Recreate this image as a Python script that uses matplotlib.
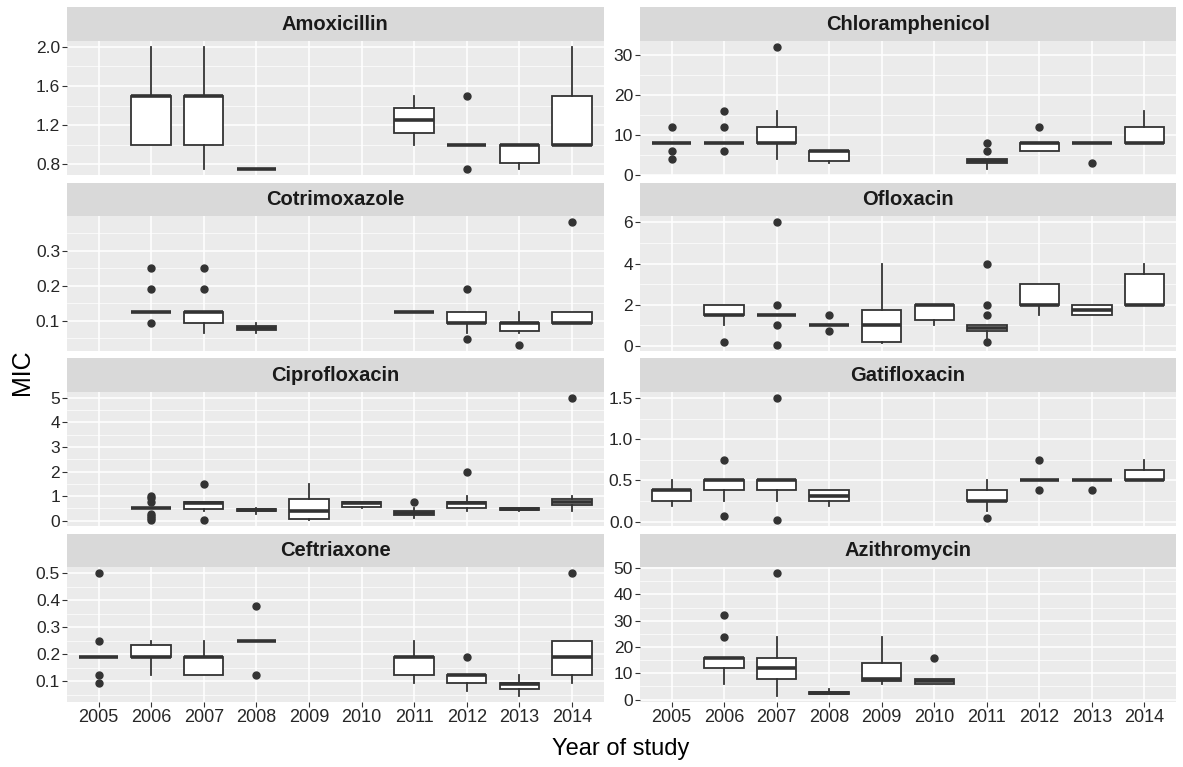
import matplotlib
matplotlib.use("Agg")
import matplotlib.pyplot as plt
from matplotlib import font_manager

# MIC boxplots per antibiotic and year of study.
# Each row: year, lower whisker, Q1, median, Q3, upper whisker, outliers
years = [2005, 2006, 2007, 2008, 2009, 2010, 2011, 2012, 2013, 2014]

amoxicillin = [
    (2006, 1.0, 1.0, 1.5, 1.5, 2.0, []),
    (2007, 0.75, 1.0, 1.5, 1.5, 2.0, []),
    (2008, 0.75, 0.75, 0.75, 0.75, 0.75, []),
    (2011, 1.0, 1.125, 1.25, 1.375, 1.5, []),
    (2012, 1.0, 1.0, 1.0, 1.0, 1.0, [1.5, 0.75]),
    (2013, 0.75, 0.8125, 1.0, 1.0, 1.0, []),
    (2014, 1.0, 1.0, 1.0, 1.5, 2.0, []),
]
chloramphenicol = [
    (2005, 8, 8, 8, 8, 8, [12, 6, 4]),
    (2006, 8, 8, 8, 8, 8, [16, 12, 6]),
    (2007, 4, 8, 8, 12, 16, [32]),
    (2008, 3, 3.5, 6, 6, 6, []),
    (2011, 1.5, 3, 3.5, 4, 4, [6, 8]),
    (2012, 6, 6, 8, 8, 8, [12]),
    (2013, 8, 8, 8, 8, 8, [3]),
    (2014, 8, 8, 8, 12, 16, []),
]
cotrimoxazole = [
    (2006, 0.125, 0.125, 0.125, 0.125, 0.125, [0.25, 0.19, 0.094]),
    (2007, 0.064, 0.094, 0.125, 0.125, 0.125, [0.25, 0.19]),
    (2008, 0.064, 0.073, 0.08, 0.086, 0.094, []),
    (2011, 0.125, 0.125, 0.125, 0.125, 0.125, []),
    (2012, 0.064, 0.094, 0.094, 0.125, 0.125, [0.19, 0.047]),
    (2013, 0.064, 0.072, 0.094, 0.094, 0.125, [0.032]),
    (2014, 0.094, 0.094, 0.094, 0.125, 0.125, [0.38]),
]
ofloxacin = [
    (2006, 1.0, 1.5, 1.5, 2.0, 2.0, [0.19]),
    (2007, 1.5, 1.5, 1.5, 1.5, 1.5, [6, 2, 1, 0.064]),
    (2008, 1.0, 1.0, 1.0, 1.0, 1.0, [1.5, 0.75]),
    (2009, 0.125, 0.19, 1.0, 1.75, 4.0, []),
    (2010, 1.0, 1.25, 2.0, 2.0, 2.0, []),
    (2011, 0.38, 0.75, 0.875, 1.0, 1.0, [4, 2, 1.5, 0.19]),
    (2012, 1.5, 2.0, 2.0, 3.0, 3.0, []),
    (2013, 1.5, 1.5, 1.75, 2.0, 2.0, []),
    (2014, 2.0, 2.0, 2.0, 3.5, 4.0, []),
]
ciprofloxacin = [
    (2006, 0.5, 0.5, 0.5, 0.5, 0.5, [1.0, 0.94, 0.75, 0.25, 0.19, 0.125, 0.016]),
    (2007, 0.38, 0.47, 0.72, 0.75, 0.75, [1.5, 0.016]),
    (2008, 0.25, 0.38, 0.42, 0.47, 0.5, []),
    (2009, 0.016, 0.047, 0.38, 0.88, 1.5, []),
    (2010, 0.5, 0.56, 0.72, 0.75, 0.75, []),
    (2011, 0.125, 0.23, 0.32, 0.41, 0.5, [0.75]),
    (2012, 0.38, 0.5, 0.72, 0.75, 1.0, [2.0]),
    (2013, 0.38, 0.42, 0.47, 0.5, 0.5, []),
    (2014, 0.38, 0.62, 0.75, 0.88, 1.0, [5.0]),
]
gatifloxacin = [
    (2005, 0.19, 0.25, 0.38, 0.38, 0.5, []),
    (2006, 0.25, 0.38, 0.5, 0.5, 0.5, [0.75, 0.064]),
    (2007, 0.25, 0.38, 0.5, 0.5, 0.5, [1.5, 0.016]),
    (2008, 0.19, 0.25, 0.31, 0.38, 0.38, []),
    (2011, 0.125, 0.25, 0.25, 0.38, 0.5, [0.047]),
    (2012, 0.5, 0.5, 0.5, 0.5, 0.5, [0.75, 0.38]),
    (2013, 0.5, 0.5, 0.5, 0.5, 0.5, [0.38]),
    (2014, 0.5, 0.5, 0.5, 0.62, 0.75, []),
]
ceftriaxone = [
    (2005, 0.19, 0.19, 0.19, 0.19, 0.19, [0.5, 0.25, 0.125, 0.094]),
    (2006, 0.125, 0.19, 0.19, 0.235, 0.25, []),
    (2007, 0.125, 0.125, 0.19, 0.19, 0.25, []),
    (2008, 0.25, 0.25, 0.25, 0.25, 0.25, [0.38, 0.125]),
    (2011, 0.094, 0.125, 0.19, 0.19, 0.25, []),
    (2012, 0.064, 0.094, 0.125, 0.125, 0.125, [0.19]),
    (2013, 0.047, 0.072, 0.09, 0.094, 0.125, []),
    (2014, 0.094, 0.125, 0.19, 0.25, 0.25, [0.5]),
]
azithromycin = [
    (2006, 6, 12, 16, 16, 16, [32, 24]),
    (2007, 1.5, 8, 12, 16, 24, [48]),
    (2008, 2, 2, 2.5, 3, 4, []),
    (2009, 6, 7, 8, 14, 24, []),
    (2010, 6, 6, 7, 8, 8, [16]),
]

drug_names = ["Amoxicillin", "Chloramphenicol", "Cotrimoxazole", "Ofloxacin",
              "Ciprofloxacin", "Gatifloxacin", "Ceftriaxone", "Azithromycin"]
drug_rows = [amoxicillin, chloramphenicol, cotrimoxazole, ofloxacin,
             ciprofloxacin, gatifloxacin, ceftriaxone, azithromycin]
y_tick_labels = [
    ["0.8", "1.2", "1.6", "2.0"],
    ["0", "10", "20", "30"],
    ["0.1", "0.2", "0.3"],
    ["0", "2", "4", "6"],
    ["0", "1", "2", "3", "4", "5"],
    ["0.0", "0.5", "1.0", "1.5"],
    ["0.1", "0.2", "0.3", "0.4", "0.5"],
    ["0", "10", "20", "30", "40", "50"],
]

# fonts
installed = {f.name for f in font_manager.fontManager.ttflist}
if "Liberation Sans Narrow" in installed:
    tick_font, tick_size, xtick_size, strip_size = "Liberation Sans Narrow", 13, 14, 16
else:
    tick_font, tick_size, xtick_size, strip_size = "Liberation Sans", 12.5, 13, 14.5
title_font = "Liberation Sans"

W, H = 1183, 767
fig = plt.figure(figsize=(W / 100, H / 100), dpi=100)


def px_axes(x0, y0, x1, y1):
    # axes from a pixel box measured from the top-left corner
    return fig.add_axes([x0 / W, 1 - y1 / H, (x1 - x0) / W, (y1 - y0) / H])


col_x = [(67, 603.5), (640, 1176)]
strip_h, panel_h, row_pitch, top = 33.5, 134.5, 175.5, 7.3
dark = "#333333"

for i, (name, rows, ticks) in enumerate(zip(drug_names, drug_rows, y_tick_labels)):
    r, c = divmod(i, 2)
    x0, x1 = col_x[c]
    s0 = top + r * row_pitch
    p0 = s0 + strip_h
    p1 = p0 + panel_h

    # strip with the drug name
    sax = px_axes(x0, s0, x1, p0)
    sax.set_facecolor("#D9D9D9")
    sax.set_xticks([])
    sax.set_yticks([])
    for sp in sax.spines.values():
        sp.set_visible(False)
    sax.text(0.5, 0.5, name, ha="center", va="center", fontsize=strip_size,
             fontweight="bold", family=tick_font, color="#1A1A1A",
             transform=sax.transAxes)

    ax = px_axes(x0, p0, x1, p1)
    ax.set_facecolor("#EBEBEB")
    for sp in ax.spines.values():
        sp.set_visible(False)

    stats = []
    positions = []
    for yr, lo, q1, med, q3, hi, out in rows:
        stats.append(dict(whislo=lo, q1=q1, med=med, q3=q3, whishi=hi, fliers=out))
        positions.append(years.index(yr) + 1)
    ax.bxp(stats, positions=positions, widths=0.75, patch_artist=True,
           showcaps=False, manage_ticks=False,
           boxprops=dict(facecolor="white", edgecolor=dark, linewidth=1.3),
           medianprops=dict(color=dark, linewidth=2.6, solid_capstyle="butt"),
           whiskerprops=dict(color=dark, linewidth=1.3),
           flierprops=dict(marker="o", markerfacecolor=dark, markeredgecolor=dark,
                           markersize=5),
           zorder=3)

    # y range with 5% padding like ggplot
    lows = [row[1] for row in rows] + [v for row in rows for v in row[6]]
    highs = [row[5] for row in rows] + [v for row in rows for v in row[6]]
    ymin, ymax = min(lows), max(highs)
    pad = 0.05 * (ymax - ymin)
    ax.set_ylim(ymin - pad, ymax + pad)
    ax.set_xlim(0.4, len(years) + 0.6)

    major = [float(t) for t in ticks]
    step = major[1] - major[0]
    minor = [major[0] - step / 2] + [m + step / 2 for m in major]
    minor = [m for m in minor if ymin - pad <= m <= ymax + pad]
    ax.set_yticks(major)
    ax.set_yticklabels(ticks)
    ax.set_yticks(minor, minor=True)
    ax.set_xticks(range(1, len(years) + 1))

    ax.grid(True, which="major", color="white", linewidth=1.1)
    ax.grid(True, which="minor", axis="y", color="white", linewidth=0.5)
    ax.set_axisbelow(True)

    ax.tick_params(which="minor", length=0)
    ax.tick_params(which="major", length=3.5, width=0.8, color=dark,
                   labelcolor="#262626")
    ax.tick_params(axis="y", pad=1.5, labelsize=tick_size)
    ax.tick_params(axis="x", pad=2, labelsize=xtick_size)
    for lab in ax.get_yticklabels():
        lab.set_family(tick_font)

    if r == 3:
        ax.set_xticklabels([str(y) for y in years])
        for lab in ax.get_xticklabels():
            lab.set_family(tick_font)
    else:
        ax.tick_params(axis="x", bottom=False, labelbottom=False)

fig.text(22 / W, 1 - 372 / H, "MIC", rotation=90, ha="center", va="center",
         fontsize=18, family=title_font, color="black")
fig.text(621 / W, 1 - 749 / H, "Year of study", ha="center", va="center",
         fontsize=17, family=title_font, color="black")

fig.savefig("out.png", dpi=100)
